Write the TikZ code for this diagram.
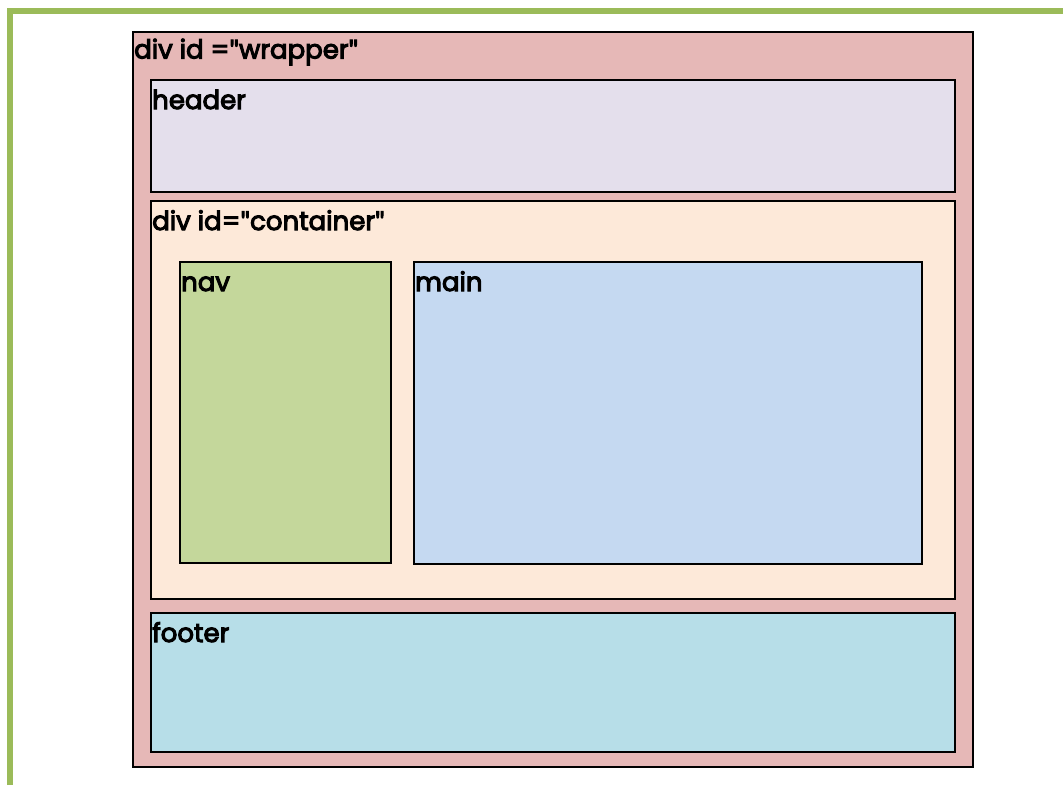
\documentclass[tikz,border=0pt]{standalone}
\usepackage{fontspec}
\setmainfont{Poppins}
\newfontfamily\lblfont[FakeBold=4]{Poppins}
\newfontfamily\qfont[FakeBold=4]{Lato}
\newcommand{\dq}{{\qfont"}}
\definecolor{wrapc}{HTML}{E6B8B7}
\definecolor{headc}{HTML}{E4DFEC}
\definecolor{contc}{HTML}{FDE9D9}
\definecolor{navc}{HTML}{C4D79B}
\definecolor{mainc}{HTML}{C5D9F1}
\definecolor{footc}{HTML}{B7DEE8}
\definecolor{framec}{HTML}{9BBB59}
\begin{document}
\begin{tikzpicture}[x=1pt,y=-1pt,
  box/.style={draw=black,line width=1.5pt,anchor=north west,inner sep=0pt},
  lbl/.style={anchor=base west,inner sep=0pt,font=\lblfont\fontsize{26}{28}\selectfont,text=black}]
\useasboundingbox (0,0) rectangle (1063,785);
\coordinate (fb) at (10,785);
\coordinate (ftl) at (10,11);
\coordinate (fr) at (1063,11);
\draw[framec,line width=6.5pt] (fb) -- (ftl) -- (fr);
\node[box,fill=wrapc,minimum width=840pt,minimum height=735pt] (wrap) at (132,31) {};
\node[box,fill=headc,minimum width=804pt,minimum height=112pt] (head) at (150,79) {};
\node[box,fill=contc,minimum width=804pt,minimum height=398pt] (cont) at (150,200) {};
\node[box,fill=navc,minimum width=211pt,minimum height=301pt] (nav) at (179,261) {};
\node[box,fill=mainc,minimum width=508pt,minimum height=302pt] (main) at (413,261) {};
\node[box,fill=footc,minimum width=804pt,minimum height=139pt] (foot) at (150,612) {};
\node[lbl] (twrap) at ([shift={(2,27.5)}]wrap.north west) {div id =\dq wrapper\dq};
\node[lbl] (thead) at ([shift={(2,30)}]head.north west) {header};
\node[lbl] (tcont) at ([shift={(2,30)}]cont.north west) {div id=\dq container\dq};
\node[lbl] (tnav) at ([shift={(2,30)}]nav.north west) {nav};
\node[lbl] (tmain) at ([shift={(2,30)}]main.north west) {main};
\node[lbl] (tfoot) at ([shift={(2,30)}]foot.north west) {footer};
\end{tikzpicture}
\end{document}
